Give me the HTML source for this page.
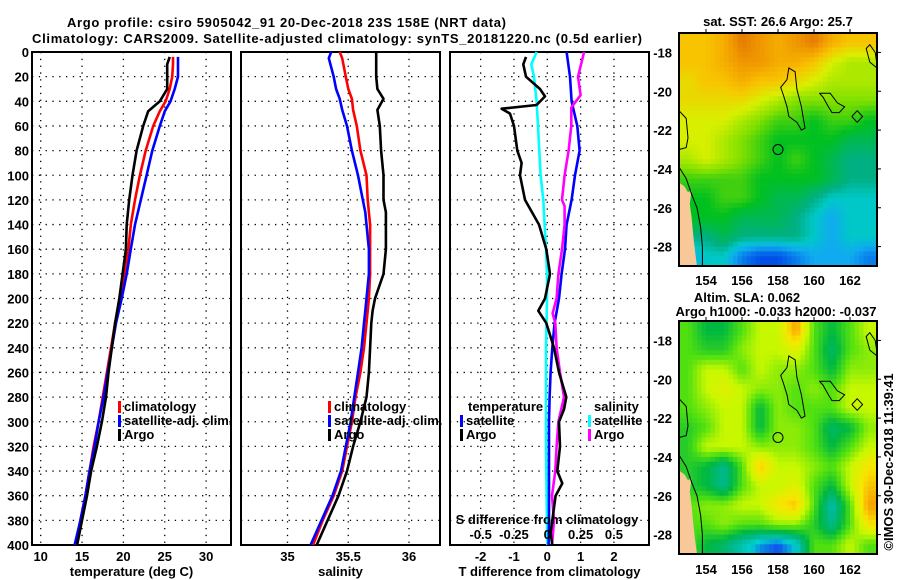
<!DOCTYPE html>
<html><head><meta charset="utf-8">
<style>
html,body{margin:0;padding:0;background:#fff;}
svg{display:block;font-family:"Liberation Sans",sans-serif;font-weight:bold;}
text{font-size:13px;fill:#000;}
</style></head>
<body>
<svg id="fig" width="900" height="580" viewBox="0 0 900 580">
<text x="67" y="27" textLength="439">Argo profile: csiro 5905042_91 20-Dec-2018 23S 158E (NRT data)</text>
<text x="32" y="43" textLength="610">Climatology: CARS2009. Satellite-adjusted climatology: synTS_20181220.nc (0.5d earlier)</text>
<g id="panels"></g>
<g id="maps"></g>
<text transform="translate(893,462) rotate(-90)" text-anchor="middle">©IMOS 30-Dec-2018 11:39:41</text>
</svg>
<script>
// ---------- profile data ----------
const depthsT = [4,10,20,30,40,48,60,80,100,120,140,160,180,200,220,240,260,280,300,320,340,360,380,400];
const tempClim = [26.0,26.0,25.9,25.6,25.1,24.4,23.6,22.7,22.0,21.4,20.9,20.6,20.1,19.6,19.0,18.5,18.0,17.5,17.0,16.4,15.9,15.4,14.8,14.2];
const tempSat  = [26.6,26.6,26.6,26.2,25.7,25.0,24.4,23.5,22.8,22.1,21.4,20.9,20.4,19.8,19.1,18.6,18.1,17.6,17.0,16.5,15.9,15.4,14.8,14.1];
const tempArgo = [25.6,25.3,25.3,25.3,24.4,23.0,22.4,21.6,21.1,20.7,20.4,20.3,19.9,19.5,19.0,18.6,18.2,17.9,17.4,16.8,16.1,15.6,15.0,14.4];
const depthsS = [0,5,20,30,38,47,60,80,100,120,130,140,160,180,200,210,220,240,260,280,300,320,340,360,380,400];
const salClim = [35.43,35.45,35.48,35.50,35.53,35.54,35.57,35.60,35.65,35.66,35.67,35.68,35.68,35.68,35.67,35.66,35.65,35.63,35.60,35.56,35.53,35.49,35.45,35.38,35.29,35.21];
const salSat  = [35.36,35.34,35.38,35.40,35.43,35.45,35.49,35.53,35.58,35.62,35.64,35.65,35.67,35.67,35.65,35.64,35.63,35.61,35.58,35.55,35.52,35.48,35.44,35.37,35.28,35.19];
const salArgo = [35.73,35.73,35.73,35.74,35.79,35.74,35.76,35.77,35.79,35.79,35.81,35.81,35.81,35.79,35.72,35.70,35.69,35.68,35.67,35.65,35.60,35.54,35.49,35.42,35.33,35.24];
const depthsD = [4,10,20,30,36,43,46,50,60,80,90,100,120,140,160,180,200,210,220,240,260,280,290,300,320,340,350,360,380,390,400];
const tDiffArgo = [-0.64,-0.72,-0.64,-0.22,-0.07,-0.32,-1.37,-1.12,-1.0,-0.9,-0.77,-0.82,-0.67,-0.25,-0.03,0.08,-0.07,-0.27,-0.03,0.2,0.35,0.57,0.5,0.35,0.38,0.3,0.45,0.25,0.15,0.1,0.15];
const depthsD2 = [0,20,40,60,80,100,120,140,160,180,200,220,240,260,280,300,320,340,360,380,400];
const tDiffSat = [0.58,0.68,0.73,0.9,0.97,0.83,0.73,0.58,0.53,0.43,0.35,0.22,0.15,0.1,0.07,0.05,0.05,0.05,0.05,0.05,0.04];
const depthsD3 = [0,20,35,45,60,80,100,120,125,140,160,180,200,212,220,240,260,280,300,320,340,360,380,400];
const sDiffArgo = [0.276,0.23,0.25,0.18,0.18,0.16,0.13,0.11,0.13,0.13,0.11,0.083,0.07,0.04,0.06,0.07,0.095,0.125,0.083,0.07,0.06,0.035,0.05,0.035];
const depthsD4 = [0,10,20,40,60,80,100,120,140,160,180,200,240,280,320,360,400];
const sDiffSat = [-0.08,-0.12,-0.1,-0.08,-0.07,-0.06,-0.05,-0.03,-0.02,-0.01,-0.002,-0.002,-0.01,-0.01,-0.01,-0.005,0.0];
const depthTicks = [0,20,40,60,80,100,120,140,160,180,200,220,240,260,280,300,320,340,360,380,400];
const tempTicks = [10,15,20,25,30];
const salTicks = [35,35.5,36];
const tdTicks = [-2,-1,0,1,2];
const sdTickLabels = ["-0.5","-0.25","0","0.25","0.5"];
const sdTicks = [-0.5,-0.25,0,0.25,0.5];

// ---------- map data (rows lat -17..-29, cols lon 152.5..163.5) ----------
const sstGrid = [
[6,6,6.5,7.5,7,6.5,7,7.5,6.5,6,6],
[6,6,6.5,7,7,6.5,6.5,6,5,4.5,4.5],
[5.5,6,6,6.5,6,6,5.5,5,4.5,4.5,4.5],
[5.5,5.5,5.5,5.5,5,4.5,4,4,4,4,4],
[5,5,5,4.5,4,3.5,3.5,3,3.5,3.5,3],
[5,5,4.5,4,3.5,3,3,3,3,2.5,2.5],
[4.5,5,4.5,4,3.5,3,3.5,3,2.5,2,2],
[3.5,3.5,3.5,3.5,3,3,3,3,2.5,2,2],
[3,3,3.5,3.5,3,2.5,2.5,2,1.5,1.5,1.5],
[3,3,3,2.5,2.5,2.5,2,1.5,1,1.5,1.5],
[2,2,2.5,2,2,2,2,1.5,1,1.5,1.5],
[1,1.5,1.5,0.5,0,0,0.5,1,1,1,0.5]];
const slaGrid = [
[4,3,3,4,5,5,7,4,3,4,5],
[4,3.5,3.5,4.5,5,5,5.5,4,2.5,4,4.5],
[4,5,5,4,5,4.5,4.5,4,3,4.5,4.5],
[4,5,5.5,5,4.5,4.5,4,4.5,4,5,5],
[4,4.5,5,5,3,4.5,4,4,4,5,5],
[3.5,4,5,5,3,4.5,4.5,4,2.5,3,4.5],
[3.5,5,5,5,4.5,4.5,4.5,4,3,4,5],
[3.5,3,2,4,6.5,5,5,4.5,4,5,6],
[3.5,3,2,4,5,5,5.5,4,3,5,6.5],
[4,4.5,4.5,5,5,6,6.5,4,1.5,4,7],
[4,4,4.5,4,4,4.5,4.5,3.5,2,4,6],
[4,3,2.5,1.5,0.5,0,1,4,4,5,4]];
const latTicks = [-18,-20,-22,-24,-26,-28];
const lonTicks = [154,156,158,160,162];

const NS='http://www.w3.org/2000/svg';
function mk(tag, attrs, parent){const e=document.createElementNS(NS,tag);for(const k in attrs)e.setAttribute(k,attrs[k]);parent.appendChild(e);return e;}
const panels=document.getElementById('panels');
const Y0=52, Y1=545;
const yS = d => Y0 + d*(Y1-Y0)/400;

function panel(name,x0,x1,xScale,xTicks,xLabels,title){
  const g=mk('g',{},panels);
  
  
  depthTicks.forEach(d=>{ if(d>0&&d<400){const l=mk('line',{x1:x0,x2:x1,y1:yS(d),y2:yS(d),stroke:'#000','stroke-width':1.3,'stroke-dasharray':'1.3,5.5'},g);
     }});
  xTicks.forEach((v,i)=>{const x=xScale(v);
    const l=mk('line',{x1:x,x2:x,y1:Y0,y2:Y1,stroke:'#000','stroke-width':1.3,'stroke-dasharray':'1.3,5.5'},g);
     
    if(xLabels){const t=mk('text',{x:x,y:561,'text-anchor':'middle'},g);t.textContent=xLabels[i];
     }});
  const r=mk('rect',{x:x0,y:Y0,width:x1-x0,height:Y1-Y0,fill:'none',stroke:'#000','stroke-width':2},g);
   
  const t=mk('text',{x:(x0+x1)/2,y:576,'text-anchor':'middle'},g);t.textContent=title;
   
  return g;
}
function line(g,name,xScale,ds,vs,color,w){
  const pts=ds.map((d,i)=>xScale(vs[i]).toFixed(1)+','+yS(d).toFixed(1)).join(' ');
  const p=mk('polyline',{points:pts,fill:'none',stroke:color,'stroke-width':w||2.6,'stroke-linejoin':'round'},g);
  
  
}
function legend(g,x,y,color,label,name){
  const m=mk('rect',{x:x,y:y-10,width:3,height:12,fill:color},g);
  
  
  const t=mk('text',{x:x+6,y:y},g);t.textContent=label;
  
  
}

// Y tick labels
depthTicks.forEach(d=>{const t=mk('text',{x:29,y:yS(d)+5,'text-anchor':'end'},panels);t.textContent=d;
   });

// Panel 1: temperature
const xT = v => 40.7 + (v-10)*8.27;
const g1=panel('temperature-panel',32,231,xT,tempTicks,tempTicks,'temperature (deg C)');
line(g1,'temp-climatology-line',xT,depthsT,tempClim,'#ff0000');
line(g1,'temp-satellite-line',xT,depthsT,tempSat,'#0000ff');
line(g1,'temp-argo-line',xT,depthsT,tempArgo,'#000000');
legend(g1,118,411,'#ff0000','climatology','legend-climatology');
legend(g1,118,425,'#0000ff','satellite-adj. clim.','legend-satellite');
legend(g1,118,439,'#000000','Argo','legend-argo');

// Panel 2: salinity
const xSal = v => 287.5 + (v-35)*121.5;
const g2=panel('salinity-panel',241,440,xSal,salTicks,salTicks,'salinity');
line(g2,'sal-climatology-line',xSal,depthsS,salClim,'#ff0000');
line(g2,'sal-satellite-line',xSal,depthsS,salSat,'#0000ff');
line(g2,'sal-argo-line',xSal,depthsS,salArgo,'#000000');
legend(g2,328,411,'#ff0000','climatology','legend-climatology');
legend(g2,328,425,'#0000ff','satellite-adj. clim.','legend-satellite');
legend(g2,328,439,'#000000','Argo','legend-argo');

// Panel 3: differences
const xTD = v => 547.3 + v*33.33;
const xSD = v => 547.3 + v*133.3;
const g3=panel('difference-panel',450,649,xTD,tdTicks,tdTicks,'T difference from climatology');
line(g3,'s-diff-sat-line',xSD,depthsD4,sDiffSat,'#00ffff');
line(g3,'t-diff-sat-line',xTD,depthsD2,tDiffSat,'#0000ff');
line(g3,'s-diff-argo-line',xSD,depthsD3,sDiffArgo,'#ff00ff');
line(g3,'t-diff-argo-line',xTD,depthsD,tDiffArgo,'#000000');
{const t=mk('text',{x:468,y:411},g3);t.textContent='temperature';}
{const t=mk('text',{x:594,y:411},g3);t.textContent='salinity';}
legend(g3,460,425,'#0000ff','satellite','legend-t-satellite');
legend(g3,460,439,'#000000','Argo','legend-t-argo');
legend(g3,588,425,'#00ffff','satellite','legend-s-satellite');
legend(g3,588,439,'#ff00ff','Argo','legend-s-argo');
{const t=mk('text',{x:547,y:524,'text-anchor':'middle'},g3);t.textContent='S difference from climatology';}
sdTicks.forEach((v,i)=>{const t=mk('text',{x:xSD(v),y:539,'text-anchor':'middle'},g3);t.textContent=sdTickLabels[i];
   });

// ---------- maps ----------
const maps=document.getElementById('maps');
const sstStops=[[0,[0,80,230]],[1,[16,170,240]],[1.5,[0,200,200]],[2,[0,176,130]],[3,[0,192,32]],[4,[128,224,0]],[5,[216,240,0]],[6,[248,196,0]],[7,[240,150,0]],[8,[216,96,0]]];
const slaStops=[[0,[16,80,240]],[1,[0,208,208]],[2,[0,184,144]],[3,[0,184,64]],[4,[80,224,16]],[5,[200,248,0]],[6,[248,230,0]],[7,[248,160,0]],[8,[240,110,0]]];
function cmap(stops,v){
  if(v<=stops[0][0])return stops[0][1];
  for(let i=1;i<stops.length;i++){if(v<=stops[i][0]){const a=stops[i-1],b=stops[i],f=(v-a[0])/(b[0]-a[0]);
    return a[1].map((c,k)=>Math.round(c+(b[1][k]-c)*f));}}
  return stops[stops.length-1][1];
}
const reefA=[[158.5,-19.4],[158.6,-18.8],[158.95,-19.0],[159.05,-19.9],[159.3,-20.8],[159.5,-21.9],[159.3,-22.0],[159.05,-21.6],[158.6,-21.3],[158.5,-20.8],[158.3,-20.2],[158.15,-19.8],[158.5,-19.4]];
const reefB=[[160.3,-20.1],[160.9,-20.1],[161.3,-20.6],[161.7,-20.8],[161.4,-21.1],[161.0,-21.1],[160.8,-20.8],[160.5,-20.3],[160.3,-20.1]];
const reefC=[[163.5,-18.8],[163.1,-18.5],[162.9,-17.8],[163.1,-17.6],[163.4,-18.0],[163.5,-18.6]];
const reefD=[[152.5,-21.0],[152.9,-21.4],[153.0,-22.4],[152.9,-22.9],[152.5,-23.0]];
const reefE=[[162.1,-21.3],[162.4,-21.0],[162.7,-21.3],[162.4,-21.6],[162.1,-21.3]];
const coast=[[152.5,-23.9],[152.9,-24.5],[153.2,-25.3],[153.5,-26.0],[153.7,-27.0],[153.8,-28.0],[153.8,-29.0]];
const land=[[152.5,-24.7],[152.8,-24.9],[153.0,-25.2],[153.2,-25.1],[153.1,-25.8],[153.2,-26.5],[153.3,-27.5],[153.4,-28.3],[153.5,-29],[152.5,-29]];

function drawMap(name,top,grid,stops,titles,lonLabelY){
  const L=679,R=877,T=top,B=top+233;
  const lx=lon=>L+(lon-152.5)*(R-L)/11, ly=lat=>T+(-17-lat)*(B-T)/12;
  const g=mk('g',{},maps);
  
  
  const nr=grid.length, nc=grid[0].length, sub=4;
  const cw=(R-L)/(nc*sub), ch=(B-T)/(nr*sub);
  for(let r=0;r<nr*sub;r++){for(let c=0;c<nc*sub;c++){
    const fy=Math.min(Math.max((r+0.5)/sub-0.5,0),nr-1), fx=Math.min(Math.max((c+0.5)/sub-0.5,0),nc-1);
    const r0=Math.floor(fy),c0=Math.floor(fx),r1=Math.min(r0+1,nr-1),c1=Math.min(c0+1,nc-1),dy=fy-r0,dx=fx-c0;
    const v=grid[r0][c0]*(1-dx)*(1-dy)+grid[r0][c1]*dx*(1-dy)+grid[r1][c0]*(1-dx)*dy+grid[r1][c1]*dx*dy;
    const col=cmap(stops,v);
    const cell=mk('rect',{x:(L+c*cw).toFixed(2),y:(T+r*ch).toFixed(2),width:(cw+0.4).toFixed(2),height:(ch+0.4).toFixed(2),fill:'rgb('+col.join(',')+')'},g);
    
    
  }}
  const pts=a=>a.map(p=>lx(p[0]).toFixed(1)+','+ly(p[1]).toFixed(1)).join(' ');
  const ld=mk('polygon',{points:pts(land),fill:'#f8c898',stroke:'none'},g);
   
  [reefA,reefB,reefC,reefD,reefE,coast].forEach(a=>{const p=mk('polyline',{points:pts(a),fill:'none',stroke:'#000','stroke-width':1},g);
     });
  const ci=mk('circle',{cx:lx(158),cy:ly(-23),r:5,fill:'none',stroke:'#000','stroke-width':1},g);
   
  const fr=mk('rect',{x:L,y:T,width:R-L,height:B-T,fill:'none',stroke:'#000','stroke-width':2},g);
   
  latTicks.forEach(v=>{const t=mk('text',{x:672,y:ly(v)+5,'text-anchor':'end'},g);t.textContent=v;
     
    const k=mk('line',{x1:R,x2:R+4,y1:ly(v),y2:ly(v),stroke:'#000'},g);});
  lonTicks.forEach(v=>{const t=mk('text',{x:lx(v),y:lonLabelY,'text-anchor':'middle'},g);t.textContent=v;
     
    const k=mk('line',{x1:lx(v),x2:lx(v),y1:T-4,y2:T,stroke:'#000'},g);});
  titles.forEach(tt=>{const t=mk('text',{x:tt[0],y:tt[1],'text-anchor':'middle'},g);t.textContent=tt[2];
     });
}
drawMap('sst-map',33,sstGrid,sstStops,[[778,26,'sat. SST: 26.6 Argo: 25.7']],285);
drawMap('sla-map',321,slaGrid,slaStops,[[747,302,'Altim. SLA: 0.062'],[776,316,'Argo h1000: -0.033 h2000: -0.037']],574);
</script>
</body></html>
